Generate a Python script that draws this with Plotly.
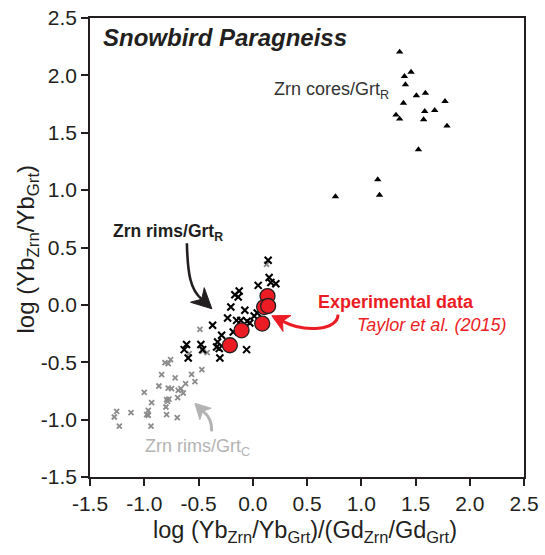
import plotly.graph_objects as go

# Zrn cores / Grt_R (triangles)
cores_x = [1.354, 1.459, 1.398, 1.407, 1.508, 1.591, 1.772, 1.389, 1.585, 1.677,
           1.320, 1.354, 1.575, 1.790, 1.527, 1.152, 1.168, 0.762]
cores_y = [2.204, 2.029, 1.992, 1.920, 1.824, 1.846, 1.774, 1.759, 1.687, 1.696,
           1.655, 1.620, 1.615, 1.559, 1.353, 1.092, 0.957, 0.944]

# Zrn rims / Grt_R (black crosses)
rimsR_x = [0.142, 0.151, 0.167, 0.213, 0.050, -0.125, -0.165, -0.134, -0.202, -0.073,
           -0.232, -0.149, -0.110, -0.052, -0.027, 0.013, 0.041, -0.370, -0.287, -0.324,
           -0.333, -0.309, -0.610, -0.632, -0.595, -0.478, -0.462, -0.303, -0.057, -0.180]
rimsR_y = [0.388, 0.238, 0.194, 0.185, 0.170, 0.121, 0.089, 0.069, -0.019, -0.047,
           -0.115, -0.135, -0.135, -0.143, -0.158, -0.097, -0.071, -0.178, -0.265, -0.324,
           -0.367, -0.381, -0.346, -0.390, -0.463, -0.346, -0.390, -0.463, -0.390, -0.236]

# Zrn rims / Grt_C (grey crosses)
rimsC_x = [-0.487, -0.462, -0.420, -0.586, -0.809, -0.779, -0.757, -0.469, -0.564, -0.533,
           -0.840, -0.715, -0.865, -0.779, -0.748, -0.687, -0.662, -0.619, -0.641, -0.692,
           -1.000, -0.932, -0.794, -0.773, -0.785, -0.800, -0.963, -0.963, -0.978, -0.794,
           -0.696, -1.122, -1.254, -1.276, -1.230, -0.938, 0.127]
rimsC_y = [-0.213, -0.402, -0.416, -0.425, -0.503, -0.512, -0.477, -0.564, -0.605, -0.669,
           -0.608, -0.637, -0.707, -0.725, -0.730, -0.745, -0.730, -0.686, -0.768, -0.808,
           -0.762, -0.852, -0.826, -0.821, -0.840, -0.890, -0.919, -0.962, -0.956, -0.956,
           -0.983, -0.939, -0.928, -0.977, -1.056, -1.056, 0.354]

# Experimental data, Taylor et al. (2015)
exp_x = [0.136, 0.105, 0.142, 0.087, -0.103, -0.211]
exp_y = [0.077, -0.019, -0.010, -0.163, -0.222, -0.352]

tick_vals = [-1.5, -1.0, -0.5, 0.0, 0.5, 1.0, 1.5, 2.0, 2.5]
tick_text = ["-1.5", "-1.0", "-0.5", "0.0", "0.5", "1.0", "1.5", "2.0", "2.5"]

FONT = "Arial, Liberation Sans, Helvetica, sans-serif"
RED = "#ec1c24"
DARK = "#231f20"
GREY = "#8c8c8c"
LIGHT = "#b3b3b3"

fig = go.Figure()
fig.add_trace(go.Scatter(x=rimsC_x, y=rimsC_y, mode="markers",
                         marker=dict(symbol="x-thin", size=5, line=dict(width=1.8, color=GREY))))
fig.add_trace(go.Scatter(x=rimsR_x, y=rimsR_y, mode="markers",
                         marker=dict(symbol="x-thin", size=7, line=dict(width=2.1, color="black"))))
fig.add_trace(go.Scatter(x=cores_x, y=cores_y, mode="markers",
                         marker=dict(symbol="triangle-up", size=6.5, color="black")))
fig.add_trace(go.Scatter(x=exp_x, y=exp_y, mode="markers",
                         marker=dict(symbol="circle", size=15, color=RED,
                                     line=dict(width=1.3, color=DARK))))

# curved arrow bodies
fig.add_shape(type="path", xref="x", yref="y",
              path="M -0.607,0.537 C -0.600,0.27 -0.575,0.130 -0.470,0.050",
              line=dict(color=DARK, width=2.6))
fig.add_shape(type="path", xref="x", yref="y",
              path="M 0.786,-0.085 C 0.784,-0.222 0.480,-0.245 0.274,-0.142",
              line=dict(color=RED, width=3))
fig.add_shape(type="path", xref="x", yref="y",
              path="M -0.379,-1.102 C -0.375,-1.010 -0.410,-0.960 -0.461,-0.926",
              line=dict(color=LIGHT, width=3))

# arrow heads (notched, filled)
fig.add_shape(type="path", xref="x", yref="y",
              path="M -0.377,-0.034 L -0.574,0.023 L -0.470,0.050 L -0.447,0.150 Z",
              fillcolor=DARK, line=dict(color=DARK, width=1))
fig.add_shape(type="path", xref="x", yref="y",
              path="M 0.176,-0.095 L 0.353,-0.092 L 0.274,-0.142 L 0.279,-0.231 Z",
              fillcolor=RED, line=dict(color=RED, width=1))
fig.add_shape(type="path", xref="x", yref="y",
              path="M -0.533,-0.858 L -0.383,-0.901 L -0.461,-0.926 L -0.488,-1.000 Z",
              fillcolor=LIGHT, line=dict(color=LIGHT, width=1))

# labels
fig.add_annotation(x=-1.40, y=2.33, text="<b><i>Snowbird Paragneiss</i></b>", showarrow=False,
                   xanchor="left", yanchor="middle", font=dict(size=24, color=DARK, family=FONT))
fig.add_annotation(x=0.180, y=1.870, text="Zrn cores/Grt<sub>R</sub>", showarrow=False,
                   xanchor="left", yanchor="middle", font=dict(size=18, color="#333333", family=FONT))
fig.add_annotation(x=-0.782, y=0.630, text="<b>Zrn rims/Grt<sub>R</sub></b>", showarrow=False,
                   xanchor="center", yanchor="middle", font=dict(size=17.5, color=DARK, family=FONT))
fig.add_annotation(x=0.580, y=0.025, text="<b>Experimental data</b>", showarrow=False,
                   xanchor="left", yanchor="middle", font=dict(size=18, color=RED, family=FONT))
fig.add_annotation(x=2.352, y=-0.178, text="<i>Taylor et al. (2015)</i>", showarrow=False,
                   xanchor="right", yanchor="middle", font=dict(size=18, color=RED, family=FONT))
fig.add_annotation(x=-1.010, y=-1.241, text="Zrn rims/Grt<sub>C</sub>", showarrow=False,
                   xanchor="left", yanchor="middle", font=dict(size=18, color=LIGHT, family=FONT))

# axis titles
fig.add_annotation(xref="paper", yref="paper", x=0.5, y=0, yshift=-54, xshift=-2,
                   text="log (Yb<sub>Zrn</sub>/Yb<sub>Grt</sub>)/(Gd<sub>Zrn</sub>/Gd<sub>Grt</sub>)",
                   showarrow=False, xanchor="center", yanchor="middle",
                   font=dict(size=23.5, color=DARK, family=FONT))
fig.add_annotation(xref="paper", yref="paper", x=0, y=0.5, xshift=-63, yshift=-2,
                   text="log (Yb<sub>Zrn</sub>/Yb<sub>Grt</sub>)", textangle=-90,
                   showarrow=False, xanchor="center", yanchor="middle",
                   font=dict(size=24, color=DARK, family=FONT))

axis_common = dict(showgrid=False, zeroline=False, showline=True, linecolor=DARK, linewidth=1.5,
                   mirror=True, ticks="outside", ticklen=7, tickwidth=1.5, tickcolor=DARK,
                   tickvals=tick_vals, ticktext=tick_text,
                   tickfont=dict(size=21, color=DARK, family=FONT))

fig.update_xaxes(range=[-1.5, 2.5], **axis_common)
fig.update_yaxes(range=[-1.5, 2.5], **axis_common)

fig.update_layout(width=545, height=555, showlegend=False,
                  margin=dict(l=90, r=21, t=18, b=78, autoexpand=False),
                  paper_bgcolor="white", plot_bgcolor="white",
                  font=dict(family=FONT, color=DARK))

fig.write_html("out.html")
